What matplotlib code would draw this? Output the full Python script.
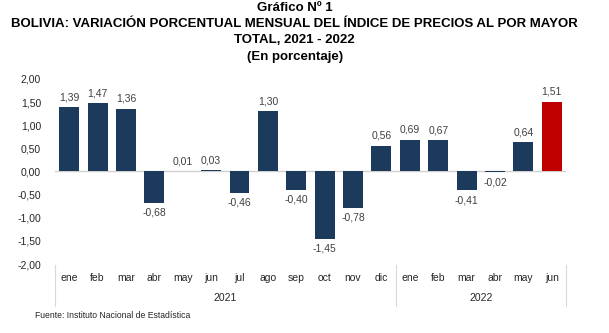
import matplotlib.pyplot as plt
from matplotlib.lines import Line2D

plt.rcParams['font.family'] = ['Liberation Sans', 'DejaVu Sans']

months = ["ene", "feb", "mar", "abr", "may", "jun", "jul", "ago", "sep", "oct", "nov", "dic",
          "ene", "feb", "mar", "abr", "may", "jun"]
values = [1.39, 1.47, 1.36, -0.68, 0.01, 0.03, -0.46, 1.30, -0.40, -1.45, -0.78, 0.56,
          0.69, 0.67, -0.41, -0.02, 0.64, 1.51]
years = ["2021", "2022"]
year_counts = [12, 6]
yticks = [2.0, 1.5, 1.0, 0.5, 0.0, -0.5, -1.0, -1.5, -2.0]

navy = "#1b3a5c"
red = "#c00000"
colors = [navy] * (len(values) - 1) + [red]


def fmt(v):
    return f"{v:.2f}".replace(".", ",")


fig = plt.figure(figsize=(6.09, 3.33), dpi=100)
ax = fig.add_axes([0.0903, 0.207, 0.839, 0.556])

x = list(range(len(values)))
ax.bar(x, values, width=0.7, color=colors, zorder=2)
ax.axhline(0, color="#d0d0d0", lw=1.0, zorder=1)

for xi, v in zip(x, values):
    if v >= 0:
        ax.text(xi, v + 0.1, fmt(v), ha="center", va="bottom", fontsize=7.5, color="#404040")
    else:
        ax.text(xi, v - 0.1, fmt(v), ha="center", va="top", fontsize=7.5, color="#404040")

ax.set_xlim(-0.5, len(values) - 0.5)
ax.set_ylim(-2.0, 2.0)
ax.set_yticks(yticks)
ax.set_yticklabels([fmt(t) for t in yticks], fontsize=7.5, color="#262626")
ax.set_xticks([])
ax.tick_params(axis="y", length=0, pad=10)
for s in ax.spines.values():
    s.set_visible(False)

# month labels and year groups under the axis
trans = ax.get_xaxis_transform()
for xi, m in zip(x, months):
    ax.text(xi, -0.075, m, transform=trans, ha="center", va="center", fontsize=7.5, color="#262626")

start = 0
bounds = [-0.5]
for yr, n in zip(years, year_counts):
    mid = start + (n - 1) / 2
    ax.text(mid, -0.185, yr, transform=trans, ha="center", va="center", fontsize=7.5, color="#262626")
    start += n
    bounds.append(start - 0.5)
for b in bounds:
    ax.add_line(Line2D([b, b], [-0.005, -0.225], transform=trans, color="#d9d9d9",
                       lw=0.8, clip_on=False))

tx = 0.484
fig.text(tx, 0.975, "Gráfico Nº 1", ha="center", va="center", fontsize=9.5, fontweight="bold")
fig.text(tx, 0.928, "BOLIVIA: VARIACIÓN PORCENTUAL MENSUAL DEL ÍNDICE DE PRECIOS AL POR MAYOR",
         ha="center", va="center", fontsize=9.5, fontweight="bold")
fig.text(tx, 0.879, "TOTAL, 2021 - 2022", ha="center", va="center", fontsize=9.5, fontweight="bold")
fig.text(tx, 0.830, "(En porcentaje)", ha="center", va="center", fontsize=9.5, fontweight="bold")

fig.text(0.057, 0.053, "Fuente: Instituto Nacional de Estadística", ha="left", va="center",
         fontsize=6.2, color="#262626")

fig.savefig("out.png", dpi=100)
